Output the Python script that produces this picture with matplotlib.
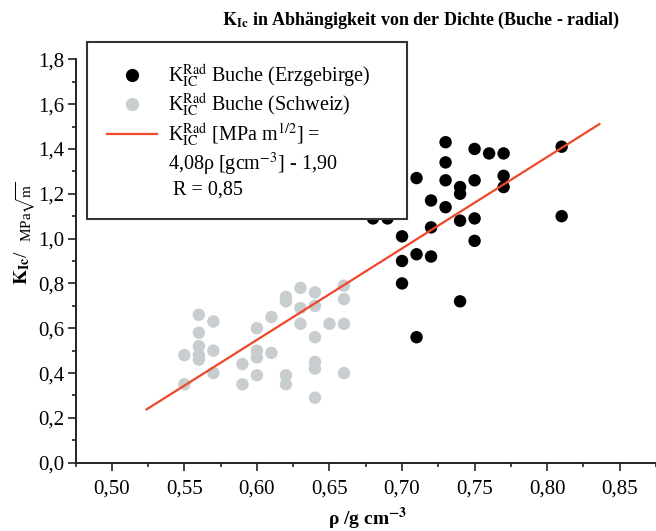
import matplotlib
matplotlib.use("Agg")
import matplotlib.pyplot as plt
from matplotlib.lines import Line2D
from matplotlib.ticker import MultipleLocator, FuncFormatter
import numpy as np

plt.rcParams['font.family'] = ['Liberation Serif', 'DejaVu Serif']
plt.rcParams['mathtext.fontset'] = 'stix'

# Data: Buche (Erzgebirge)
erz_rho = [0.73, 0.75, 0.76, 0.77, 0.81, 0.73, 0.71, 0.73, 0.75, 0.74,
           0.74, 0.77, 0.77, 0.72, 0.73, 0.74, 0.75, 0.81, 0.68, 0.69,
           0.72, 0.70, 0.75, 0.71, 0.72, 0.70, 0.70, 0.74, 0.71]
erz_kic = [1.43, 1.40, 1.38, 1.38, 1.41, 1.34, 1.27, 1.26, 1.26, 1.23,
           1.20, 1.28, 1.23, 1.17, 1.14, 1.08, 1.09, 1.10, 1.09, 1.09,
           1.05, 1.01, 0.99, 0.93, 0.92, 0.90, 0.80, 0.72, 0.56]

# Data: Buche (Schweiz)
sch_rho = [0.55, 0.55, 0.56, 0.56, 0.56, 0.56, 0.56, 0.57, 0.57, 0.57,
           0.59, 0.59, 0.60, 0.60, 0.60, 0.60, 0.61, 0.61, 0.62, 0.62,
           0.62, 0.62, 0.63, 0.63, 0.63, 0.64, 0.64, 0.64, 0.64, 0.64,
           0.64, 0.65, 0.66, 0.66, 0.66, 0.66]
sch_kic = [0.35, 0.48, 0.66, 0.58, 0.52, 0.48, 0.46, 0.63, 0.50, 0.40,
           0.44, 0.35, 0.60, 0.50, 0.47, 0.39, 0.65, 0.49, 0.74, 0.72,
           0.39, 0.35, 0.78, 0.69, 0.62, 0.76, 0.70, 0.56, 0.45, 0.42,
           0.29, 0.62, 0.79, 0.73, 0.62, 0.40]

# Regression line K = slope * rho + intercept
fit_slope = 4.08
fit_intercept = -1.90
fit_range = [0.524, 0.836]

x_ticks = [0.50, 0.55, 0.60, 0.65, 0.70, 0.75, 0.80, 0.85]
y_ticks = [0.0, 0.2, 0.4, 0.6, 0.8, 1.0, 1.2, 1.4, 1.6, 1.8]

W, H = 656, 531
fig = plt.figure(figsize=(W / 100, H / 100), dpi=100)
ax = fig.add_axes([75.5 / W, 1 - 462.7 / H, (656 - 75.5) / W, (462.7 - 59.3) / H])

grey = '#c8cdcf'
red = '#f0472a'

ax.scatter(erz_rho, erz_kic, s=80, color='black', edgecolors='none', zorder=3)
ax.scatter(sch_rho, sch_kic, s=80, color=grey, edgecolors='none', zorder=3)
fx = np.array(fit_range)
ax.plot(fx, fit_slope * fx + fit_intercept, color=red, lw=1.6, zorder=4)

ax.set_xlim(0.475, 0.875)
ax.set_ylim(0.0, 1.8)
ax.set_xticks(x_ticks)
ax.set_yticks(y_ticks)
ax.xaxis.set_minor_locator(MultipleLocator(0.025))
ax.yaxis.set_minor_locator(MultipleLocator(0.1))
ax.xaxis.set_major_formatter(FuncFormatter(lambda v, p: f"{v:.2f}".replace('.', ',')))
ax.yaxis.set_major_formatter(FuncFormatter(lambda v, p: f"{v:.1f}".replace('.', ',')))

for s in ['top', 'right']:
    ax.spines[s].set_visible(False)
for s in ['left', 'bottom']:
    ax.spines[s].set_linewidth(1.4)
    ax.spines[s].set_color('#222222')

ax.tick_params(which='major', direction='out', length=5.5, width=1.2,
               labelsize=15, color='#222222')
ax.tick_params(which='minor', direction='out', length=3, width=1.2, color='#222222')
ax.tick_params(axis='x', which='major', pad=6.5)
ax.tick_params(axis='y', which='major', pad=2.5)

handles = [
    Line2D([], [], ls='none', marker='o', ms=9.5, mfc='black', mec='none'),
    Line2D([], [], ls='none', marker='o', ms=9.5, mfc=grey, mec='none'),
    Line2D([], [], color=red, lw=1.6),
    Line2D([], [], ls='none'),
    Line2D([], [], ls='none'),
]
labels = [
    r"K$_{\mathrm{IC}}^{\mathrm{Rad}}$ Buche (Erzgebirge)",
    r"K$_{\mathrm{IC}}^{\mathrm{Rad}}$ Buche (Schweiz)",
    r"K$_{\mathrm{IC}}^{\mathrm{Rad}}$ [MPa m$^{1/2}$] =",
    r"4,08ρ [gcm$^{-3}$] - 1,90",
    r" R = 0,85",
]
top = (462.7 - 42) / (462.7 - 59.3)
left = (87 - 75.5) / (656 - 75.5)
wid = (407 - 87) / (656 - 75.5)
leg = ax.legend(handles, labels, loc='upper left',
                bbox_to_anchor=(left, top - 0.5, wid, 0.5), mode='expand',
                borderaxespad=0, fontsize=14.5, frameon=True, fancybox=False,
                framealpha=1.0, edgecolor='#333333', handlelength=2.5,
                handletextpad=0.5, borderpad=1.0, labelspacing=0.1)
leg.get_frame().set_linewidth(1.5)
leg.set_zorder(10)

fig.text(421 / W, 1 - 20 / H,
         r"$\mathbf{K_{Ic}}$ in Abhängigkeit von der Dichte (Buche - radial)",
         ha='center', va='center', fontsize=13, fontweight='bold')

fig.text(368 / W, 1 - 519 / H, r"ρ /g cm$^{\mathbf{-3}}$",
         ha='center', va='center', fontsize=14, fontweight='bold')

fig.text(22 / W, 1 - 267 / H, r"$\mathbf{K_{Ic}}$/", rotation=90,
         ha='center', va='center', fontsize=14)
fig.text(26 / W, 1 - 212 / H, r"MPa$\sqrt{\mathrm{m}}$", rotation=90,
         ha='center', va='center', fontsize=11)

fig.savefig('out.png', dpi=100)
